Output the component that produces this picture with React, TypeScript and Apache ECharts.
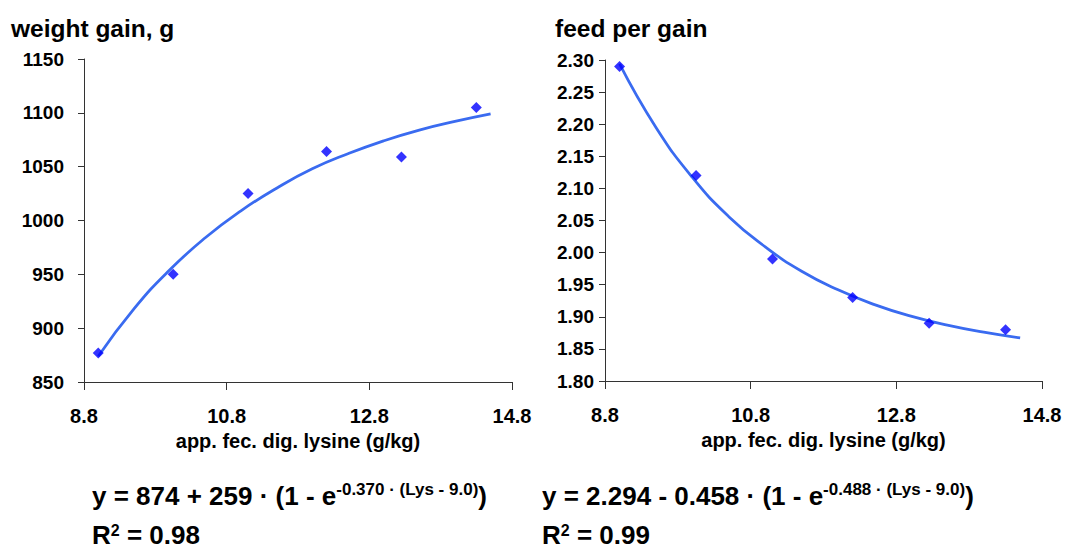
import React, { useEffect, useRef } from "react";
import * as echarts from "echarts";

// Observed data (app. fec. dig. lysine g/kg)
const lysine = [9.0, 10.05, 11.1, 12.2, 13.25, 14.3];
const weightGain = [877, 950, 1025, 1064, 1059, 1105];
const feedPerGain = [2.29, 2.12, 1.99, 1.93, 1.89, 1.88];

// Fitted curve
const curveX = [9.0, 9.5, 10.0, 10.5, 11.0, 11.5, 12.0, 12.5, 13.0, 13.5, 14.0, 14.5];
const curveWeight = [874, 918, 954, 984, 1009, 1030, 1048, 1062, 1074, 1084, 1092, 1099];
const curveFeed = [2.294, 2.195, 2.117, 2.056, 2.009, 1.971, 1.942, 1.919, 1.901, 1.887, 1.876, 1.867];

const xTicks = { min: 8.8, max: 14.8, interval: 2 };
const weightTicks = { min: 850, max: 1150, interval: 50 };
const feedTicks = { min: 1.8, max: 2.3, interval: 0.05 };

const FONT = "'Liberation Sans', Arial, Helvetica, sans-serif";
const AXIS_COLOR = "#333";
const POINT_COLOR = "#0000FF";
const CURVE_COLOR = "#3A6BF0";

function zip(xs: number[], ys: number[]) {
  return xs.map((x, i) => [x, ys[i]]);
}

export default function App() {
  const ref = useRef<HTMLDivElement>(null);
  useEffect(() => {
    document.body.style.margin = "0";
    if (!ref.current) return;
    const chart = echarts.init(ref.current, undefined, { renderer: "svg" });

    const xAxisBase = (gridIndex: number) => ({
      type: "value",
      gridIndex,
      min: xTicks.min,
      max: xTicks.max,
      interval: xTicks.interval,
      name: "app. fec. dig. lysine (g/kg)",
      nameLocation: "middle",
      nameGap: 47,
      nameTextStyle: { fontFamily: FONT, fontWeight: "bold", fontSize: 20, color: "#000" },
      splitLine: { show: false },
      axisLine: { show: true, onZero: false, lineStyle: { color: AXIS_COLOR, width: 1 } },
      axisTick: { show: true, length: 8, lineStyle: { color: AXIS_COLOR } },
      axisLabel: {
        margin: 24,
        fontFamily: FONT,
        fontWeight: "bold",
        fontSize: 20,
        color: "#000",
        formatter: (v: number) => v.toFixed(1),
        showMinLabel: true,
        showMaxLabel: true,
      },
    });

    const yAxisBase = (gridIndex: number, t: any, digits: number, margin: number) => ({
      type: "value",
      gridIndex,
      min: t.min,
      max: t.max,
      interval: t.interval,
      splitLine: { show: false },
      axisLine: { show: true, onZero: false, lineStyle: { color: AXIS_COLOR, width: 1 } },
      axisTick: { show: true, length: 6, lineStyle: { color: AXIS_COLOR } },
      axisLabel: {
        margin,
        fontFamily: FONT,
        fontWeight: "bold",
        fontSize: 19,
        color: "#000",
        formatter: (v: number) => v.toFixed(digits),
        showMinLabel: true,
        showMaxLabel: true,
      },
    });

    const richMain = { fontFamily: FONT, fontWeight: "bold", fontSize: 26, lineHeight: 30, color: "#000" };
    const richSup = { fontFamily: FONT, fontWeight: "bold", fontSize: 17, lineHeight: 17, verticalAlign: "top", color: "#000" };
    const richMainR = { fontFamily: FONT, fontWeight: "bold", fontSize: 26, lineHeight: 26, color: "#000" };
    const richSup2 = { fontFamily: FONT, fontWeight: "bold", fontSize: 16, lineHeight: 16, verticalAlign: "top", color: "#000" };

    const eqText = (x: number, y: number, text: string) => ({
      type: "text",
      left: x,
      top: y,
      style: {
        text,
        rich: { m: richMain, s: richSup, r: richMainR, t: richSup2 },
        fill: "#000",
      },
    });

    chart.setOption({
      animation: false,
      backgroundColor: "#fff",
      grid: [
        { left: 84, top: 59, width: 428, height: 323 },
        { left: 605, top: 60, width: 437, height: 321 },
      ],
      xAxis: [xAxisBase(0), xAxisBase(1)],
      yAxis: [yAxisBase(0, weightTicks, 0, 20), yAxisBase(1, feedTicks, 2, 11)],
      series: [
        {
          type: "line",
          xAxisIndex: 0,
          yAxisIndex: 0,
          data: zip(curveX, curveWeight),
          smooth: true,
          showSymbol: false,
          lineStyle: { color: CURVE_COLOR, width: 2.75 },
          z: 2,
        },
        {
          type: "scatter",
          xAxisIndex: 0,
          yAxisIndex: 0,
          data: zip(lysine, weightGain),
          symbol: "diamond",
          symbolSize: 11,
          itemStyle: { color: POINT_COLOR },
          z: 3,
        },
        {
          type: "line",
          xAxisIndex: 1,
          yAxisIndex: 1,
          data: zip(curveX, curveFeed),
          smooth: true,
          showSymbol: false,
          lineStyle: { color: CURVE_COLOR, width: 2.75 },
          z: 2,
        },
        {
          type: "scatter",
          xAxisIndex: 1,
          yAxisIndex: 1,
          data: zip(lysine, feedPerGain),
          symbol: "diamond",
          symbolSize: 11,
          itemStyle: { color: POINT_COLOR },
          z: 3,
        },
      ],
      graphic: [
        {
          type: "text",
          left: 11,
          top: 16,
          style: { text: "weight gain, g", fontFamily: FONT, fontWeight: "bold", fontSize: 24.5, fill: "#000" },
        },
        {
          type: "text",
          left: 555,
          top: 16,
          style: { text: "feed per gain", fontFamily: FONT, fontWeight: "bold", fontSize: 24.5, fill: "#000" },
        },
        eqText(92, 481, "{m|y = 874 + 259 · (1 - e}{s|-0.370 · (Lys - 9.0)}{m|)}"),
        eqText(92, 522, "{r|R}{t|2}{r| = 0.98}"),
        eqText(542, 481, "{m|y = 2.294 - 0.458 · (1 - e}{s|-0.488 · (Lys - 9.0)}{m|)}"),
        eqText(542, 522, "{r|R}{t|2}{r| = 0.99}"),
      ],
    });
    return () => chart.dispose();
  }, []);
  return <div ref={ref} style={{ width: 1083, height: 549 }} />;
}
